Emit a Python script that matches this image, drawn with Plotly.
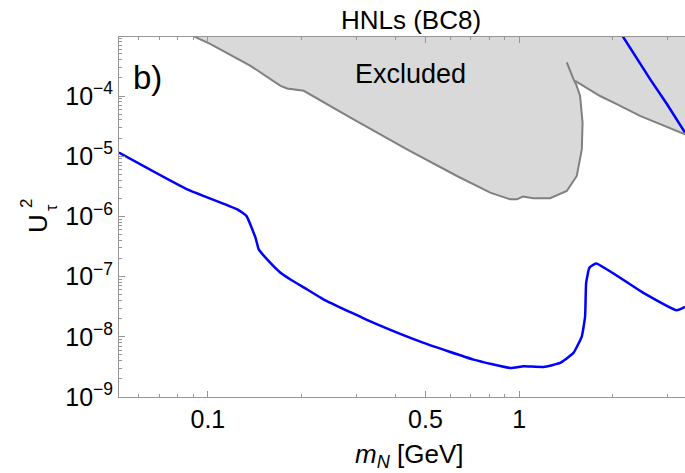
import plotly.graph_objects as go

# ---- data ----
# Sensitivity curve (blue), lower branch
sens_m = [0.0518, 0.0859, 0.1243, 0.1331, 0.1422, 0.1457, 0.1532, 0.1711, 0.1842, 0.2085,
          0.2356, 0.2870, 0.3409, 0.4932, 0.7137, 0.9357, 1.032, 1.197, 1.354, 1.494,
          1.589, 1.628, 1.641, 1.681, 1.766, 2.505, 3.206, 3.409]
sens_U = [1.15e-5, 2.81e-6, 1.31e-6, 1.01e-6, 4.43e-7, 2.83e-7, 2.06e-7, 1.16e-7, 8.96e-8, 6.10e-8,
          4.16e-8, 2.56e-8, 1.70e-8, 7.91e-9, 4.18e-9, 3.04e-9, 3.23e-9, 3.16e-9, 3.68e-9, 5.40e-9,
          1.02e-8, 2.19e-8, 7.89e-8, 1.40e-7, 1.65e-7, 5.37e-8, 2.76e-8, 3.15e-8]
# Sensitivity curve (blue), upper branch
sens2_m = [2.109, 2.151, 2.633, 2.985, 3.409]
sens2_U = [1.15e-3, 9.77e-4, 1.91e-4, 7.30e-5, 2.47e-5]

# Excluded region boundary: left edge + U-shaped dip + spur
excl_a_m = [0.0855, 0.1020, 0.1371, 0.1711, 0.1798, 0.2032, 0.2870, 0.4362, 0.6311, 0.807,
            0.9357, 0.983, 1.028, 1.111, 1.257, 1.422, 1.531, 1.589, 1.598, 1.569,
            1.523, 1.494, 1.422]
excl_a_U = [1.11e-3, 7.28e-4, 3.17e-4, 1.47e-4, 1.33e-4, 1.22e-4, 4.39e-5, 1.30e-5, 4.69e-6, 2.48e-6,
            1.92e-6, 1.92e-6, 2.13e-6, 2.00e-6, 2.00e-6, 2.64e-6, 4.69e-6, 1.30e-5, 3.62e-5, 1.00e-4,
            1.57e-4, 1.91e-4, 3.61e-4]
# Excluded region boundary: right branch
excl_b_m = [1.512, 1.819, 2.058, 2.445, 3.409, 3.6]
excl_b_U = [1.78e-4, 1.00e-4, 7.30e-5, 4.67e-5, 2.31e-5, 2.0e-5]

x_major = [0.1, 0.5, 1]
x_major_text = ["0.1", "0.5", "1"]
x_minor = [0.06, 0.07, 0.08, 0.09, 0.2, 0.3, 0.4, 0.6, 0.7, 0.8, 0.9, 2, 3]
y_major = [1e-9, 1e-8, 1e-7, 1e-6, 1e-5, 1e-4]
y_major_text = ["10<sup>−9</sup>", "10<sup>−8</sup>", "10<sup>−7</sup>",
                "10<sup>−6</sup>", "10<sup>−5</sup>", "10<sup>−4</sup>"]
y_minor = [k * 10.0 ** n for n in range(-9, -3) for k in range(2, 10)]

TOP_U = 1e-2
FONT = "Liberation Sans, Arial, Helvetica, sans-serif"
GRAY_FILL = "rgb(217,217,217)"
GRAY_LINE = "rgb(128,128,128)"
BLUE = "rgb(0,0,255)"
AXIS = "rgb(150,150,150)"

fig = go.Figure()

# filled excluded region (polygon built from the boundary arrays)
poly_m = excl_a_m[:-1] + excl_b_m[1:] + [excl_b_m[-1], excl_a_m[0]]
poly_U = excl_a_U[:-1] + excl_b_U[1:] + [TOP_U, TOP_U]
fig.add_trace(go.Scatter(x=poly_m, y=poly_U, fill="toself", fillcolor=GRAY_FILL,
                         mode="none", hoverinfo="skip", showlegend=False))
fig.add_trace(go.Scatter(x=excl_a_m, y=excl_a_U, mode="lines",
                         line=dict(color=GRAY_LINE, width=2), showlegend=False))
fig.add_trace(go.Scatter(x=excl_b_m, y=excl_b_U, mode="lines",
                         line=dict(color=GRAY_LINE, width=2), showlegend=False))
fig.add_trace(go.Scatter(x=sens_m, y=sens_U, mode="lines", line_shape="spline",
                         line=dict(color=BLUE, width=2.5, smoothing=0.4), showlegend=False))
fig.add_trace(go.Scatter(x=sens2_m, y=sens2_U, mode="lines",
                         line=dict(color=BLUE, width=2.5), showlegend=False))

fig.update_layout(
    width=685, height=473,
    margin=dict(l=119, r=0, t=37, b=76),
    paper_bgcolor="white", plot_bgcolor="white",
    font=dict(family=FONT, size=25, color="black"),
    title=dict(text="HNLs (BC8)", x=411 / 685, xanchor="center", xref="container",
               y=1 - 20 / 473, yanchor="middle", yref="container",
               font=dict(family=FONT, size=26, color="black")),
    showlegend=False,
)

fig.update_xaxes(
    type="log", range=[-1.2855, 0.5326],
    tickmode="array", tickvals=x_major, ticktext=x_major_text,
    ticks="inside", ticklen=6, tickcolor=AXIS, tickwidth=1,
    showline=True, linecolor=AXIS, linewidth=1, mirror="allticks",
    showgrid=False, zeroline=False,
    tickfont=dict(family=FONT, size=25, color="black"),
    minor=dict(tickmode="array", tickvals=x_minor, ticks="inside", ticklen=3,
               tickcolor=AXIS, showgrid=False),
)
fig.update_yaxes(
    type="log", range=[-9, -3.02],
    tickmode="array", tickvals=y_major, ticktext=y_major_text,
    ticks="inside", ticklen=6, tickcolor=AXIS, tickwidth=1,
    showline=True, linecolor=AXIS, linewidth=1, mirror=False,
    showgrid=False, zeroline=False,
    tickfont=dict(family=FONT, size=25, color="black"),
    minor=dict(tickmode="array", tickvals=y_minor, ticks="inside", ticklen=3,
               tickcolor=AXIS, showgrid=False),
)

def px_to_paper(px, py):
    return (px - 119) / 566, (397 - py) / 360

ann = []
# Excluded label
ann.append(dict(text="Excluded", x=-0.3497, y=-3.637, xref="x", yref="y",
                showarrow=False, xanchor="center", yanchor="middle",
                font=dict(family=FONT, size=27, color="black")))
# panel label
bx, by = px_to_paper(147, 77)
ann.append(dict(text="b)", x=bx, y=by, xref="paper", yref="paper", showarrow=False,
                xanchor="center", yanchor="middle",
                font=dict(family=FONT, size=33, color="black")))
# x-axis title
tx, ty = px_to_paper(409, 455)
ann.append(dict(text="<i>m<sub>N</sub></i> [GeV]", x=tx, y=ty, xref="paper", yref="paper",
                showarrow=False, xanchor="center", yanchor="middle",
                font=dict(family=FONT, size=26, color="black")))
# y-axis title U_tau^2 (stacked sub/superscript)
ux, uy = px_to_paper(38, 224)
ann.append(dict(text="U", x=ux, y=uy, xref="paper", yref="paper", showarrow=False,
                textangle=-90, xanchor="center", yanchor="middle",
                font=dict(family=FONT, size=26, color="black")))
sx, sy = px_to_paper(51, 208)
ann.append(dict(text="τ", x=sx, y=sy, xref="paper", yref="paper", showarrow=False,
                textangle=-90, xanchor="center", yanchor="middle",
                font=dict(family=FONT, size=16, color="black")))
px2, py2 = px_to_paper(26, 204)
ann.append(dict(text="2", x=px2, y=py2, xref="paper", yref="paper", showarrow=False,
                textangle=-90, xanchor="center", yanchor="middle",
                font=dict(family=FONT, size=17, color="black")))
fig.update_layout(annotations=ann)

fig.write_html("out.html")
